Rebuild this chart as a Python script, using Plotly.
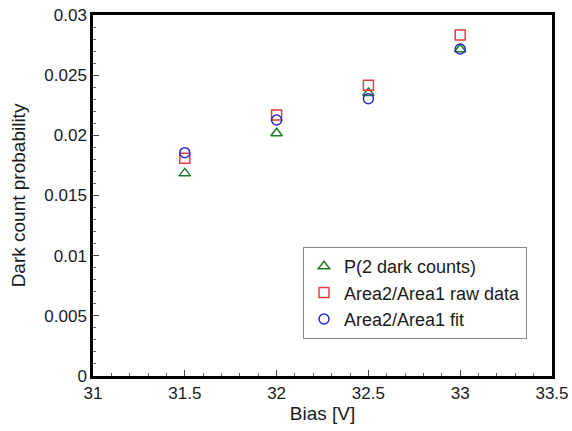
import plotly.graph_objects as go

bias = [31.5, 32.0, 32.5, 33.0]
p2_dark = [0.01684, 0.02017, 0.02352, 0.02715]
raw_data = [0.01809, 0.02169, 0.02416, 0.02834]
fit_data = [0.01856, 0.02127, 0.02305, 0.02717]

x_ticks = [31, 31.5, 32, 32.5, 33, 33.5]
y_ticks = [0, 0.005, 0.01, 0.015, 0.02, 0.025, 0.03]
y_tick_text = ["0", "0.005", "0.01", "0.015", "0.02", "0.025", "0.03"]

font_family = "Liberation Sans, Arial, sans-serif"

fig = go.Figure()
fig.add_trace(go.Scatter(x=bias, y=p2_dark, mode="markers", name="P(2 dark counts)",
                         marker=dict(symbol="triangle-up-open", size=10, color="#1f7a2a",
                                     line=dict(width=1.5))))
fig.add_trace(go.Scatter(x=bias, y=raw_data, mode="markers", name="Area2/Area1 raw data",
                         marker=dict(symbol="square-open", size=10, color="#e23f44",
                                     line=dict(width=1.5))))
fig.add_trace(go.Scatter(x=bias, y=fit_data, mode="markers", name="Area2/Area1 fit",
                         marker=dict(symbol="circle-open", size=10, color="#2b2bd0",
                                     line=dict(width=1.5))))

fig.update_layout(
    width=572, height=431,
    margin=dict(l=93, r=20, t=15, b=55, autoexpand=False),
    paper_bgcolor="white", plot_bgcolor="white",
    font=dict(family=font_family, size=17, color="#1a1a1a"),
    showlegend=True,
    legend=dict(x=(303 - 93) / 459, y=(376 - 247) / 361, xanchor="left", yanchor="top",
                bordercolor="#888", borderwidth=1, bgcolor="white",
                font=dict(size=18), itemwidth=30),
    xaxis=dict(range=[31, 33.5], tickvals=x_ticks, ticktext=[str(v) for v in x_ticks],
               automargin=False,
               showgrid=False, zeroline=False, showline=True, linecolor="black", linewidth=2.5,
               mirror=True, ticks="inside", ticklen=6, tickcolor="#444",
               minor=dict(dtick=0.1, ticks="inside", ticklen=3, tickcolor="#666", showgrid=False),
               title=dict(text="Bias [V]", font=dict(size=19), standoff=4)),
    yaxis=dict(range=[0, 0.03], tickvals=y_ticks, ticktext=y_tick_text,
               automargin=False,
               showgrid=False, zeroline=False, showline=True, linecolor="black", linewidth=2.5,
               mirror=True, ticks="inside", ticklen=6, tickcolor="#444",
               minor=dict(dtick=0.001, ticks="inside", ticklen=3, tickcolor="#666", showgrid=False),
               title=dict(text="Dark count probability", font=dict(size=19), standoff=14)),
)

fig.write_html("out.html", config={"displayModeBar": False},
               post_script="document.body.style.margin='0';document.body.style.overflow='hidden';")
